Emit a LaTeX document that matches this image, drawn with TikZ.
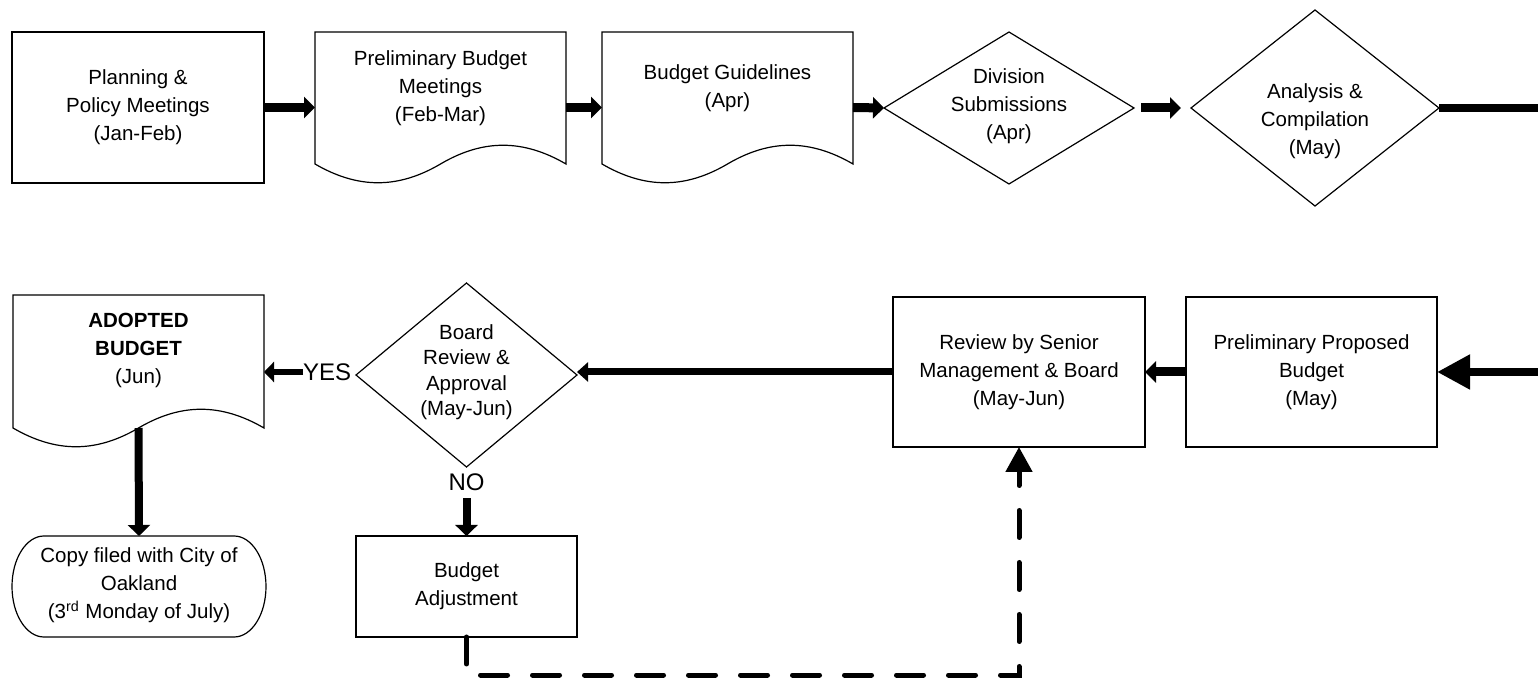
\documentclass[tikz,border=0pt]{standalone}
\usepackage{fontspec}
\setmainfont{Liberation Sans}
\usetikzlibrary{arrows.meta,calc,shapes.geometric}
\newcommand\docoutline[1]{%
  \draw[thinline] (#1.north west) -- (#1.north east) -- ($(#1.south east)+(0,-19)$)
    .. controls ($(#1.south east)+(-43,-44)$) and ($(#1.south east)+(-83,-44)$) .. ($(#1.south west)+(125.5,-19)$)
    .. controls ($(#1.south west)+(83,6)$) and ($(#1.south west)+(43,6)$) .. ($(#1.south west)+(0,-19)$) -- cycle;}
\begin{document}
\begin{tikzpicture}[x=0.5pt,y=-0.5pt,
  every node/.style={inner sep=0pt,outer sep=0pt},
  thinline/.style={draw=black,line width=0.6pt},
  txt/.style={align=center,font=\fontsize{10.25pt}{14pt}\selectfont},
  btxt/.style={align=center,font=\fontsize{10.25pt}{12.75pt}\selectfont},
  lbl/.style={font=\fontsize{12pt}{14pt}\selectfont},
  boxnode/.style={thinline,rectangle,txt},
  frame/.style={draw=none,rectangle},
  dia/.style={thinline,diamond},
  arr/.style={line width=4.5pt,-{Triangle[length=5.5pt,width=10.5pt]}},
  arrm/.style={line width=3.5pt,-{Triangle[length=5.5pt,width=9.5pt]}},
  arrs/.style={line width=3pt,-{Triangle[length=5pt,width=10pt]}},
  arrd/.style={line width=4pt,-{Triangle[length=5.5pt,width=11pt]}},
  bigarr/.style={line width=4pt,-{Triangle[length=16.5pt,width=16.5pt]}},
  thickline/.style={line width=4.25pt},
  dsh/.style={line width=2.5pt,line cap=round,dash pattern=on 13.5pt off 12.5pt,-{Triangle[length=12.5pt,width=13pt]}}
]
\fill[white] (0,0) rectangle (1538,678);
\useasboundingbox (0,0) rectangle (1538,678);

% ---- top row ----
\node[boxnode,minimum width=126pt,minimum height=75.5pt] (b1) at (138,107.5) {Planning \&\\Policy Meetings\\(Jan-Feb)};

\node[frame,minimum width=125.5pt,minimum height=75.5pt] (d2) at (440.5,107.5) {};
\docoutline{d2}
\node[txt] (d2t) at (440.5,88) {Preliminary Budget\\Meetings\\(Feb-Mar)};

\node[frame,minimum width=125.5pt,minimum height=75.5pt] (d3) at (727.5,107.5) {};
\docoutline{d3}
\node[txt] (d3t) at (727.5,88) {Budget Guidelines\\(Apr)};

\node[dia,minimum width=125pt,minimum height=76pt] (m1) at (1009,108) {};
\node[txt] (m1t) at (1009,106) {Division\\Submissions\\(Apr)};

\node[dia,minimum width=124pt,minimum height=98pt] (m2) at (1315,108) {};
\node[txt] (m2t) at (1315,121) {Analysis \&\\Compilation\\(May)};

\coordinate (redge1) at (1538,108);

% ---- bottom row ----
\node[boxnode,minimum width=125.5pt,minimum height=75pt] (pp) at (1311.5,372) {Preliminary Proposed\\Budget\\(May)};
\node[boxnode,minimum width=126pt,minimum height=75pt] (rv) at (1019,372) {Review by Senior\\Management \& Board\\(May-Jun)};
\coordinate (redge2) at (1538,372);

\node[dia,minimum width=110.5pt,minimum height=92pt] (bd) at (466.5,375) {};
\node[btxt] (bdt) at (466.5,372) {Board\\Review \&\\Approval\\(May-Jun)};

\node[lbl,anchor=west] (yes) at (303,372) {YES};

\node[frame,minimum width=125.5pt,minimum height=76pt] (ad) at (138.5,371) {};
\docoutline{ad}
\node[txt] (adt) at (138.5,350) {\textbf{ADOPTED}\\\textbf{BUDGET}\\(Jun)};
\coordinate (adw) at ($(ad.south west)+(125.5,-19)$);

\node[frame,minimum width=127pt,minimum height=50.5pt] (term) at (139,586.5) {};
\draw[thinline] ($(term.north west)+(32,0)$) -- ($(term.north east)+(-32,0)$)
  .. controls ($(term.north east)+(-14.3,0)$) and ($(term.east)+(0,-27.9)$) .. (term.east)
  .. controls ($(term.east)+(0,27.9)$) and ($(term.south east)+(-14.3,0)$) .. ($(term.south east)+(-32,0)$)
  -- ($(term.south west)+(32,0)$)
  .. controls ($(term.south west)+(14.3,0)$) and ($(term.west)+(0,27.9)$) .. (term.west)
  .. controls ($(term.west)+(0,-27.9)$) and ($(term.north west)+(14.3,0)$) .. cycle;
\node[txt] (termt) at (139,585) {Copy filed with City of\\Oakland\\(3\textsuperscript{rd} Monday of July)};

\node[lbl] (no) at (466.5,482) {NO};
\node[boxnode,minimum width=110.5pt,minimum height=50.5pt] (adj) at (466.5,586.5) {Budget\\Adjustment};

% ---- connectors ----
\draw[arr] (b1.east) -- (d2.west);
\draw[arr] (d2.east) -- (d3.west);
\draw[arr] (d3.east) -- (m1.west);
\draw[arr,shorten <=3.5pt,shorten >=5pt] (m1.east) -- (m2.west);
\draw[thickline] (m2.east) -- (redge1);

\draw[bigarr] (redge2) -- (pp.east);
\draw[arr] (pp.west) -- (rv.east);
\draw[arrm] (rv.west) -- (rv.west -| bd.east);
\draw[arrs] (yes.west) -- (yes.west -| ad.east);
\draw[arrd] (adw) -- (term.north);
\draw[arrd,shorten <=4pt] (no.south) -- (adj.north);
\draw[dsh] (adj.south) -- ++(0,38) -| (rv.south);
\end{tikzpicture}
\end{document}
